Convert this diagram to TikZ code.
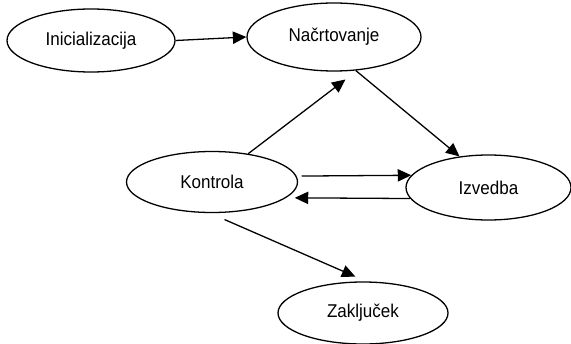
\documentclass[tikz,border=0pt]{standalone}
\usepackage{fontspec}
\setmainfont{Liberation Sans}[FakeStretch=0.92]
\usetikzlibrary{shapes,arrows.meta}
\usetikzlibrary{positioning}
\newlength{\unitpx}
\setlength{\unitpx}{0.03cm}
\tikzstyle{phase} = [ellipse, draw, line width=1.1pt, inner sep=0pt,
    font=\fontsize{15.8}{18}\selectfont]
\tikzstyle{line} = [draw, line width=1.1pt, -{Triangle[length=11.5pt,width=10.5pt]}]

\begin{document}
\begin{tikzpicture}[x=\unitpx, y=-\unitpx]
  \useasboundingbox (0,0) rectangle (571,344);
  % Place nodes
  \node [phase, minimum width=168\unitpx, minimum height=63\unitpx] (init) at (91,40.5) {Inicializacija};
  \node [phase, minimum width=174\unitpx, minimum height=68\unitpx] (plan) at (334,37) {Načrtovanje};
  \node [phase, minimum width=171\unitpx, minimum height=61\unitpx] (ctrl) at (212,182) {Kontrola};
  \node [phase, minimum width=165\unitpx, minimum height=65\unitpx] (exec) at (488.5,187.5) {Izvedba};
  \node [phase, minimum width=170\unitpx, minimum height=62\unitpx] (close) at (363,313) {Zaključek};

  % Draw edges
  \path [line] (init.east) -- (plan.west);
  \path [line] (plan.-57) -- (exec.133);
  \path [line, shorten >=15\unitpx] (ctrl.38) -- (plan.-55);
  \path [line, shorten <=5\unitpx] (ctrl.4) -- (exec.171.5);
  \path [line, shorten >=8.5\unitpx] (exec.188) -- (ctrl.-12.5);
  \path [line, shorten <=16\unitpx, shorten >=12\unitpx] (ctrl.-94) -- (close.84);

\end{tikzpicture}
\end{document}
